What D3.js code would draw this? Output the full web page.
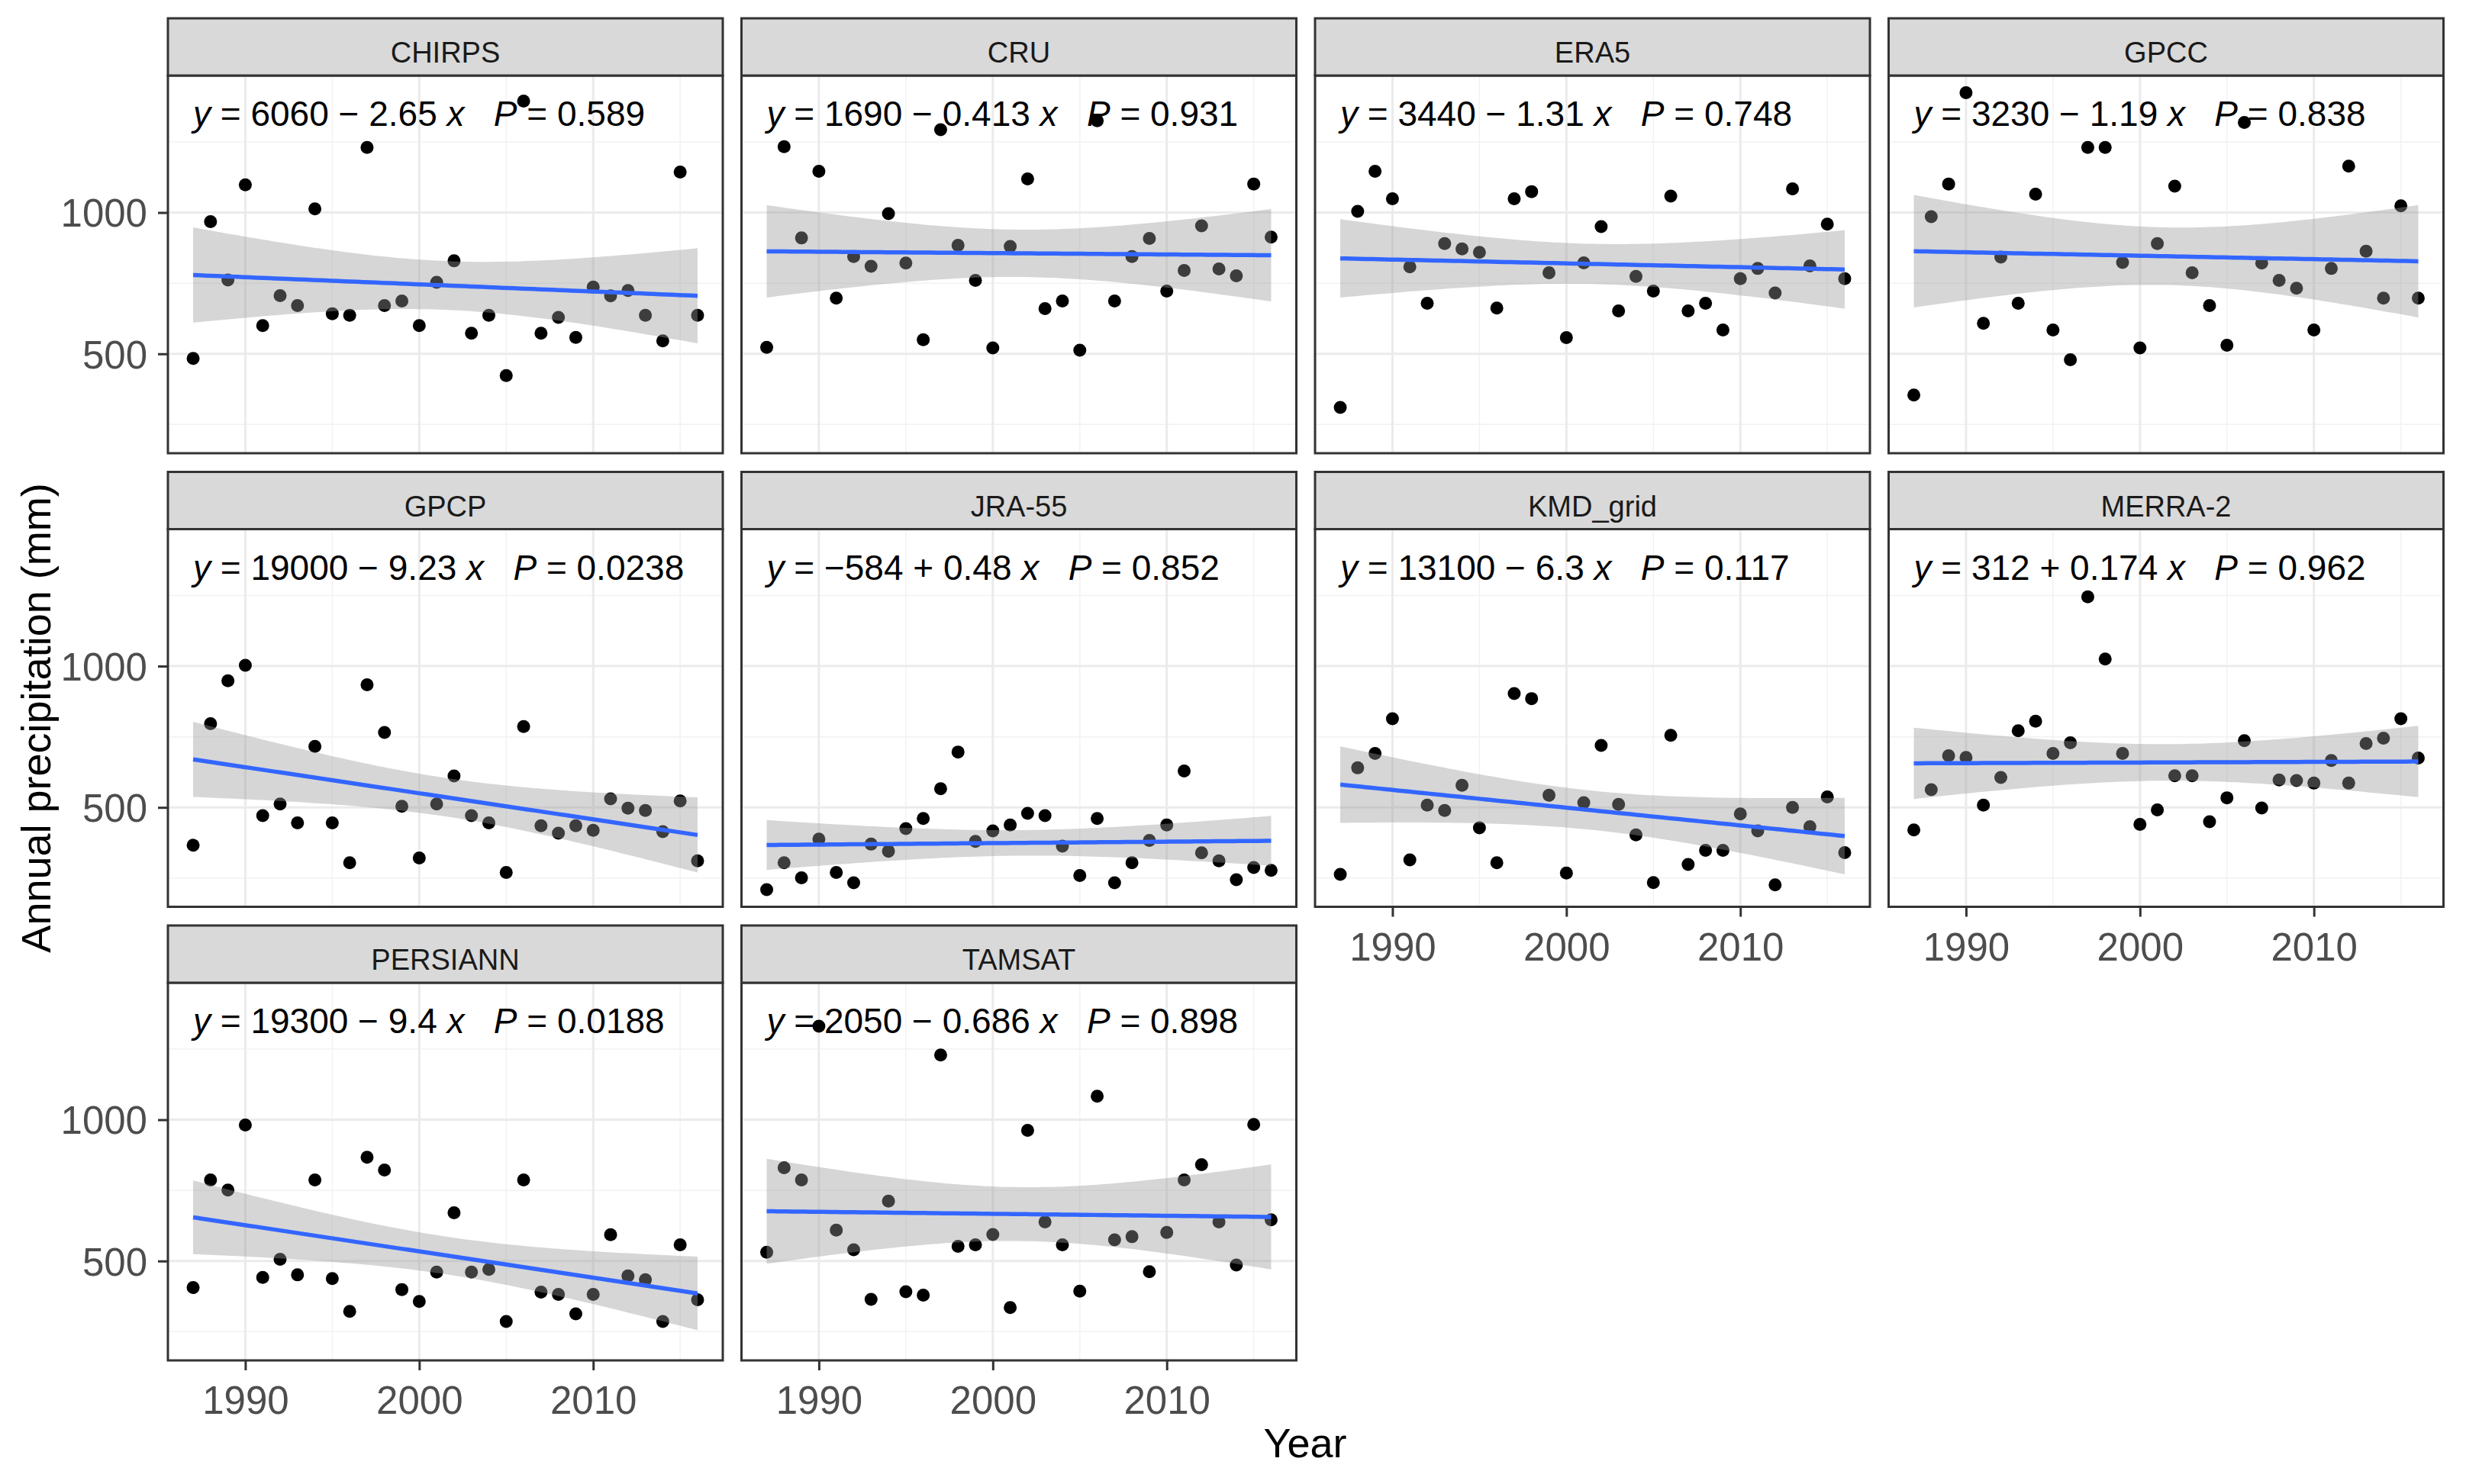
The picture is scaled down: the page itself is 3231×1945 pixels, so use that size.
<!DOCTYPE html>
<html>
<head>
<meta charset="utf-8">
<script src="https://cdn.jsdelivr.net/npm/d3@7"></script>
<style>
body{margin:0;background:#fff}
svg{display:block;font-family:"Liberation Sans",Arial,sans-serif}
</style>
</head>
<body>
<div class="visHolder"></div>
<script>
// annual precipitation per product, 1987-2016
const years=[1987,1988,1989,1990,1991,1992,1993,1994,1995,1996,1997,1998,1999,2000,2001,2002,2003,2004,2005,2006,2007,2008,2009,2010,2011,2012,2013,2014,2015,2016];
const products=["CHIRPS","CRU","ERA5","GPCC","GPCP","JRA-55","KMD_grid","MERRA-2","PERSIANN","TAMSAT"];

const chirps=[484,968,761,1098,600,706,671,1013,642,636,1230,671,687,600,753,829,573,636,423,1394,573,629,558,736,705,724,636,546,1143,636];
const cru=[523,1233,910,1146,697,844,810,996,821,550,1293,884,760,521,880,1119,660,687,513,1325,687,844,908,722,795,953,800,776,1101,913];
const era5=[310,1004,1146,1049,808,679,890,871,859,662,1049,1074,787,557,822,950,652,774,722,1058,652,679,584,766,802,715,1084,811,959,766];
const gpcc=[354,985,1101,1424,608,842,679,1065,584,479,1230,1230,823,521,890,1093,787,671,530,1319,821,760,732,584,802,1164,863,697,1024,697];
const gpcp=[366,796,948,1003,471,512,445,716,445,304,934,765,504,321,512,611,471,445,270,786,435,409,435,419,530,497,489,414,523,311];
const jra55=[209,304,251,388,270,233,370,345,425,461,566,696,380,417,438,479,471,363,259,461,233,304,383,438,629,339,311,244,287,277];
const kmdGrid=[263,640,691,814,314,508,489,578,428,304,903,885,543,268,517,719,511,403,234,755,298,348,348,477,417,226,500,432,537,340];
const merra2=[420,563,683,677,508,606,771,805,691,729,1245,1025,691,440,491,612,612,449,534,736,498,597,595,586,666,586,726,745,814,675];
const persiann=[406,787,751,981,442,506,451,787,438,322,867,822,399,357,461,671,461,470,286,787,390,382,313,382,593,447,434,286,557,363];
const tamsat=[531,830,787,1331,609,540,364,712,391,379,1229,552,557,594,335,962,638,557,393,1083,575,586,462,601,787,841,638,486,983,646];
const series=[chirps,cru,era5,gpcc,gpcp,jra55,kmdGrid,merra2,persiann,tamsat];

// regression labels as printed on each panel
const eqIntercept=["6060","1690","3440","3230","19000","\u2212584","13100","312","19300","2050"];
const eqSign=["\u2212","\u2212","\u2212","\u2212","\u2212","+","\u2212","+","\u2212","\u2212"];
const eqSlope=["2.65","0.413","1.31","1.19","9.23","0.48","6.3","0.174","9.4","0.686"];
const pValues=["0.589","0.931","0.748","0.838","0.0238","0.852","0.117","0.962","0.0188","0.898"];

const xTicks=[1990,2000,2010], xMinor=[1995,2005,2015];
const yTicks=[500,1000], yMinor=[250,750,1250];

const W=3231,H=1945;
const colLeft=220,colStep=751.5,pw=727;
const rowTop=24,rowStep=594.5,stripH=75,ph=495;
const tCrit=2.0484; // t(0.975, 28)

const svg=d3.select(".visHolder").append("svg")
  .attr("width",W).attr("height",H);

// shared scales (facet_wrap with fixed scales, 5% expansion)
const xr=d3.extent(years), xPad=(xr[1]-xr[0])*0.05;
const allVals=series.flat();
const yr=d3.extent(allVals), yPad=(yr[1]-yr[0])*0.05;
const xScale=d3.scaleLinear().domain([xr[0]-xPad,xr[1]+xPad]).range([0,pw]);
const yScale=d3.scaleLinear().domain([yr[0]-yPad,yr[1]+yPad]).range([ph,0]);

function fit(xs,ys){
  const n=xs.length,mx=d3.mean(xs),my=d3.mean(ys);
  let sxx=0,sxy=0;
  xs.forEach((x,i)=>{sxx+=(x-mx)*(x-mx);sxy+=(x-mx)*(ys[i]-my);});
  const b=sxy/sxx,a=my-b*mx;
  let ss=0;
  xs.forEach((x,i)=>{const r=ys[i]-(a+b*x);ss+=r*r;});
  const s=Math.sqrt(ss/(n-2));
  return {a,b,s,mx,sxx,n};
}

products.forEach((name,i)=>{
  const col=i%4,row=Math.floor(i/4);
  const left=colLeft+col*colStep, top=rowTop+row*rowStep;
  const vals=series[i];
  const g=svg.append("g").attr("transform","translate("+left+","+(top+stripH)+")");

  // strip
  svg.append("rect")
    .attr("x",left).attr("y",top).attr("width",pw).attr("height",stripH)
    .attr("fill","#d9d9d9").attr("stroke","#333").attr("stroke-width",3);
  svg.append("text")
    .attr("x",left+pw/2).attr("y",top+58)
    .attr("text-anchor","middle").attr("font-size",38).attr("fill","#1a1a1a")
    .text(name);

  g.append("rect").attr("width",pw).attr("height",ph).attr("fill","#fff");

  // grid
  g.selectAll(".ymin").data(yMinor).enter().append("line")
    .attr("x1",0).attr("x2",pw).attr("y1",d=>yScale(d)).attr("y2",d=>yScale(d))
    .attr("stroke","#f2f2f2").attr("stroke-width",1.5);
  g.selectAll(".xmin").data(xMinor).enter().append("line")
    .attr("y1",0).attr("y2",ph).attr("x1",d=>xScale(d)).attr("x2",d=>xScale(d))
    .attr("stroke","#f2f2f2").attr("stroke-width",1.5);
  g.selectAll(".ymaj").data(yTicks).enter().append("line")
    .attr("x1",0).attr("x2",pw).attr("y1",d=>yScale(d)).attr("y2",d=>yScale(d))
    .attr("stroke","#ebebeb").attr("stroke-width",3);
  g.selectAll(".xmaj").data(xTicks).enter().append("line")
    .attr("y1",0).attr("y2",ph).attr("x1",d=>xScale(d)).attr("x2",d=>xScale(d))
    .attr("stroke","#ebebeb").attr("stroke-width",3);

  // points
  g.selectAll("circle").data(vals).enter().append("circle")
    .attr("cx",(d,j)=>xScale(years[j]))
    .attr("cy",d=>yScale(d))
    .attr("r",8.5).attr("fill","#000");

  // lm smooth with 95% band
  const f=fit(years,vals);
  const grid=d3.range(0,81).map(k=>xr[0]+(xr[1]-xr[0])*k/80);
  const band=grid.map(x=>{
    const yh=f.a+f.b*x;
    const se=f.s*Math.sqrt(1/f.n+(x-f.mx)*(x-f.mx)/f.sxx);
    return {x,lo:yh-tCrit*se,hi:yh+tCrit*se,yh};
  });
  g.append("path").datum(band)
    .attr("d",d3.area().x(d=>xScale(d.x)).y0(d=>yScale(d.lo)).y1(d=>yScale(d.hi)))
    .attr("fill","#999").attr("fill-opacity",0.4);
  g.append("path").datum(band)
    .attr("d",d3.line().x(d=>xScale(d.x)).y(d=>yScale(d.yh)))
    .attr("fill","none").attr("stroke","#3366ff").attr("stroke-width",5.5);

  // equation label
  const eq=g.append("text")
    .attr("x",33).attr("y",66)
    .attr("font-size",46).attr("fill","#000")
    .style("white-space","pre");
  eq.append("tspan").attr("font-style","italic").text("y");
  eq.append("tspan").text(" = "+eqIntercept[i]+" "+eqSign[i]+" "+eqSlope[i]+" ");
  eq.append("tspan").attr("font-style","italic").text("x");
  eq.append("tspan").text("   ");
  eq.append("tspan").attr("font-style","italic").text("P");
  eq.append("tspan").text(" = "+pValues[i]);

  // border
  g.append("rect").attr("width",pw).attr("height",ph)
    .attr("fill","none").attr("stroke","#333").attr("stroke-width",3);

  // axes
  const hasBelow=(i+4)<products.length;
  if(!hasBelow){
    const ax=g.append("g").attr("transform","translate(0,"+ph+")")
      .call(d3.axisBottom(xScale).tickValues(xTicks).tickSize(13).tickFormat(d3.format("d")));
    ax.select(".domain").remove();
    ax.selectAll("line").attr("stroke","#333").attr("stroke-width",3);
    ax.selectAll("text").attr("y",70).attr("dy",null)
      .attr("font-size",51).attr("fill","#4d4d4d").attr("font-family",null);
  }
  if(col===0){
    const ay=g.append("g")
      .call(d3.axisLeft(yScale).tickValues(yTicks).tickSize(13).tickPadding(14).tickFormat(d3.format("d")));
    ay.select(".domain").remove();
    ay.selectAll("line").attr("stroke","#333").attr("stroke-width",3);
    ay.selectAll("text").attr("dy","0.36em")
      .attr("font-size",51).attr("fill","#4d4d4d").attr("font-family",null);
  }
});

// axis titles
svg.append("text")
  .attr("x",1710).attr("y",1910)
  .attr("text-anchor","middle").attr("font-size",54).attr("fill","#000")
  .text("Year");
svg.append("text")
  .attr("transform","translate(66,941) rotate(-90)")
  .attr("text-anchor","middle").attr("font-size",54).attr("fill","#000")
  .text("Annual precipitation (mm)");
</script>
</body>
</html>
